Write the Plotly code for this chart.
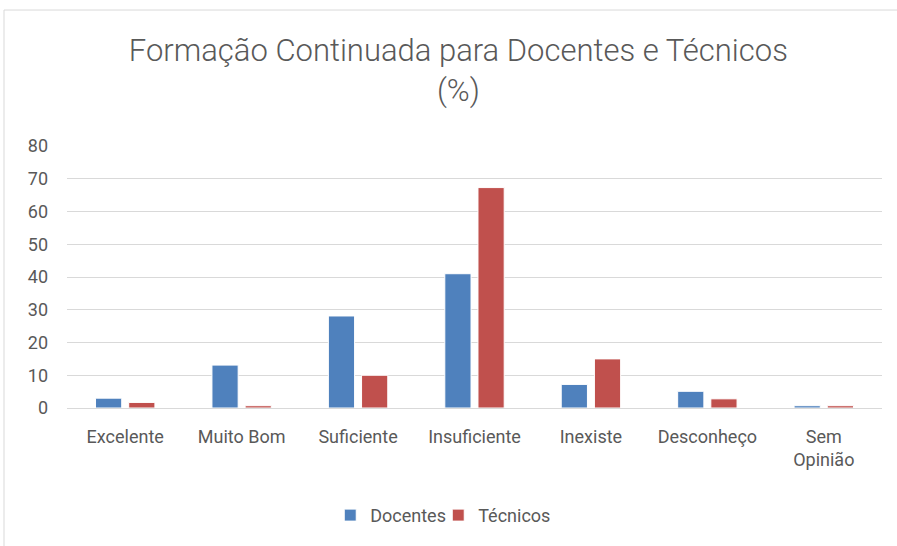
import plotly.graph_objects as go

categories = ["Excelente", "Muito Bom", "Suficiente", "Insuficiente", "Inexiste", "Desconheço", "Sem<br>Opinião"]
docentes = [3.0, 13.1, 28.1, 41.0, 7.2, 5.1, 0.7]
tecnicos = [1.7, 0.7, 10.0, 67.3, 15.0, 2.8, 0.7]
y_ticks = [0, 10, 20, 30, 40, 50, 60, 70, 80]

FONT = "Roboto, sans-serif"
GREY = "#595959"

fig = go.Figure()
fig.add_trace(go.Bar(name="Docentes", x=categories, y=docentes,
                     marker=dict(color="#4F81BD", line=dict(color="#FFFFFF", width=1))))
fig.add_trace(go.Bar(name="Técnicos", x=categories, y=tecnicos,
                     marker=dict(color="#C0504D", line=dict(color="#FFFFFF", width=1))))
# invisible spacer entry so the last legend label is not clipped
fig.add_trace(go.Scatter(name=" ", x=[None], y=[None], mode="markers",
                         marker=dict(color="rgba(0,0,0,0)", size=1,
                                     line=dict(width=0, color="rgba(0,0,0,0)")),
                         hoverinfo="skip"))

fig.update_layout(
    width=897, height=546,
    margin=dict(l=67, r=15, t=146, b=138, autoexpand=False),
    paper_bgcolor="white", plot_bgcolor="white",
    barmode="group", bargap=0.43, bargroupgap=0.21,
    font=dict(family=FONT, color=GREY, size=18),
    title=dict(text="Formação Continuada para Docentes e Técnicos<br>(%)",
               x=0.511, xanchor="center", xref="container", yref="container",
               y=0.889, yanchor="top",
               font=dict(family=FONT, size=31, color=GREY, weight=300)),
    showlegend=True,
    legend=dict(orientation="h", x=0.323, xanchor="left", y=-0.41, yanchor="middle",
                font=dict(family=FONT, size=18, color=GREY), itemwidth=30,
                entrywidth=63, traceorder="normal", bgcolor="rgba(0,0,0,0)"),
    xaxis=dict(showgrid=False, showline=True, linecolor="#D9D9D9", linewidth=1,
               ticks="", tickfont=dict(size=18), automargin=False, ticklabelstandoff=12),
    yaxis=dict(range=[0, 80], tickvals=y_ticks, showgrid=True, gridcolor="#D9D9D9",
               gridwidth=1, zeroline=False, showline=False, ticks="", automargin=False,
               tickfont=dict(size=18), ticklabelstandoff=18),
    shapes=[dict(type="rect", xref="paper", yref="paper",
                 x0=-0.0773, x1=1.1, y0=-1.0, y1=1.519,
                 line=dict(color="#D9D9D9", width=1), fillcolor="rgba(0,0,0,0)")],
)

fig.write_html("out.html", config={"displayModeBar": False},
               post_script="document.body.style.margin='0';")
